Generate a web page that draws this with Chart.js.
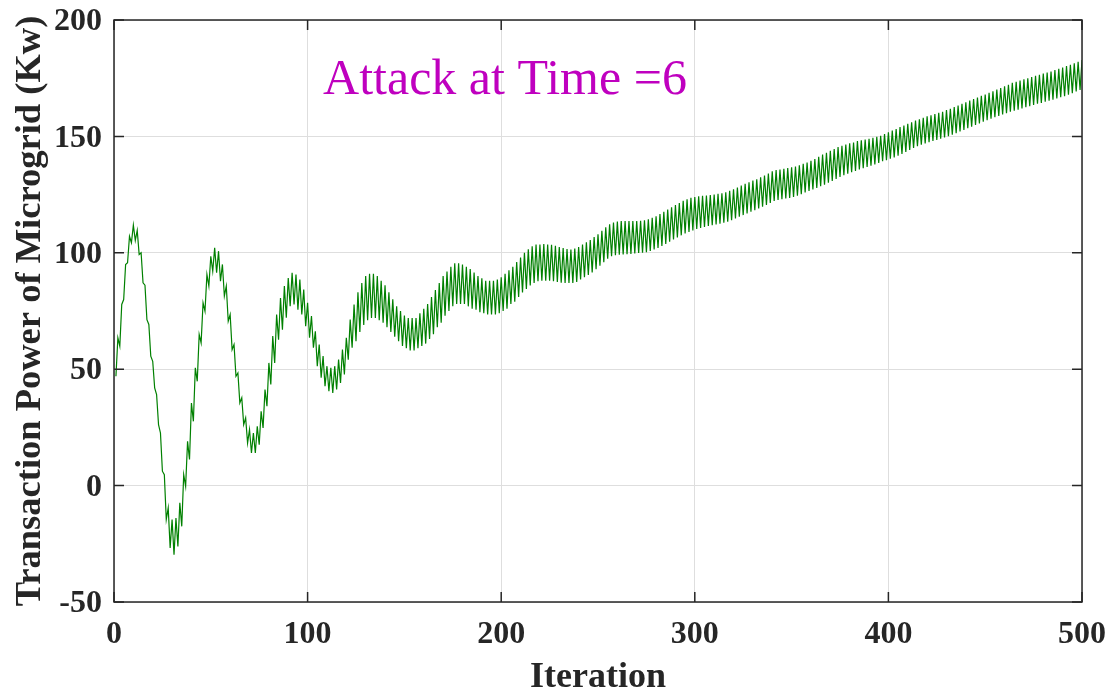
<!DOCTYPE html>
<html>
<head>
<meta charset="utf-8">
<title>Transaction Power of Microgrid</title>
<script src="https://cdn.jsdelivr.net/npm/chart.js@4.4.1/dist/chart.umd.min.js"></script>
<style>
  html, body { margin: 0; padding: 0; background: #fff; }
  canvas { display: block; }
</style>
</head>
<body>
<canvas id="myChart" width="1112" height="696"></canvas>
<script>
const xTicks = [0, 100, 200, 300, 400, 500];
const yTicks = [-50, 0, 50, 100, 150, 200];
const xTitle = "Iteration";
const yTitle = "Transaction Power of Microgrid (Kw)";
const attackLabel = "Attack at Time =6";

// power per iteration, iteration 1 .. 124
const powerA = [
  47.0, 63.5, 59.9, 77.8, 79.9, 95.0, 95.7, 107.1, 104.3, 111.9,
  105.3, 109.6, 99.3, 100.0, 87.1, 86.1, 71.3, 69.2, 55.6, 53.4,
  42.0, 39.1, 26.2, 22.6, 6.2, 4.7, -14.6, -9.6, -26.8, -14.6,
  -29.7, -13.9, -26.1, -7.4, -17.5, 4.7, -0.3, 19.0, 11.2, 35.5,
  27.6, 50.6, 44.8, 64.9, 61.3, 78.5, 74.9, 90.7, 85.7, 98.5,
  92.1, 102.1, 91.4, 100.7, 87.8, 95.0, 81.4, 85.7, 70.6, 73.5,
  58.4, 60.6, 47.0, 48.4, 35.5, 37.7, 26.2, 29.1, 18.3, 24.1,
  14.0, 22.6, 14.0, 25.5, 17.6, 31.9, 24.8, 41.3, 34.1, 52.7,
  43.4, 64.2, 52.7, 73.5, 62.7, 80.6, 67.0, 85.7, 72.1, 89.2,
  77.1, 91.4, 77.8, 90.7, 75.6, 88.5, 73.5, 84.2, 68.5, 78.5,
  63.5, 72.8, 59.2, 66.3, 51.3, 60.6, 46.3, 55.6, 42.7, 51.3,
  40.5, 50.6, 39.8, 51.3, 41.3, 54.1, 44.1, 58.4, 47.7, 63.5,
  54.1, 71.3, 59.2, 77.8
];

// iteration 125 .. 250
const powerB = [
  62, 83, 66, 87, 69, 90, 71, 91, 72, 91,
  72, 90, 71, 88, 70, 86, 68, 83, 66, 80,
  64, 77, 62, 75, 60, 73, 59, 72, 58, 72,
  58, 72, 59, 74, 60, 76, 61, 78, 63, 81,
  65, 84, 68, 87, 70, 90, 73, 92, 75, 94,
  77, 95.5, 78, 95.5, 78, 95, 78, 94, 77, 93,
  76, 91.5, 75.5, 90, 74.5, 89, 74, 88, 73.5, 88,
  73.5, 88, 73.5, 88.5, 74, 89.5, 75, 91, 76, 92.5,
  78, 94, 79, 96, 81, 98, 83, 100, 84.5, 101.5,
  86, 102.8, 87, 103.5, 87.8, 103.6, 88, 103.8, 88, 103.6,
  88, 103.4, 87.8, 103, 87.5, 102.5, 87.2, 102, 87, 101.6,
  87, 101.4, 87, 101.8, 87.5, 102.5, 88.5, 103.5, 89.5, 104.5,
  90.5, 105.5, 91.5, 106.8, 93, 108
];

// iteration 251 .. 375
const powerC = [
  94.5, 109.5, 96, 111, 97.5, 112.2, 98.5, 113, 99, 113.4,
  99.2, 113.6, 99.3, 113.6, 99.4, 113.6, 99.5, 113.6, 99.7, 113.6,
  99.9, 113.7, 100, 114, 100.3, 114.4, 100.8, 115, 101.4, 115.7,
  102.1, 116.6, 102.9, 117.6, 103.8, 118.6, 104.8, 119.5, 105.7, 120.5,
  106.6, 121.4, 107.5, 122.3, 108.3, 123, 109, 123.6, 109.6, 124,
  110.2, 124.3, 110.7, 124.5, 111.1, 124.6, 111.5, 124.8, 111.9, 125,
  112.2, 125.3, 112.5, 125.6, 112.9, 126, 113.4, 126.6, 114, 127.3,
  114.7, 128, 115.5, 128.9, 116.2, 129.6, 116.9, 130.3, 117.6, 131,
  118.3, 131.6, 119, 132.4, 119.8, 133.2, 120.6, 134, 121.4, 135,
  122.3, 135.5, 122.7, 135.8, 123, 136.1, 123.3, 136.4, 123.6, 136.7,
  124, 137.1, 124.5, 137.6, 125.2, 138.2, 125.9, 138.8, 126.6, 139.5,
  127.2, 140.3, 127.9, 141.2, 128.6, 142.2, 129.3, 143, 130.1, 143.8,
  130.9, 144.6, 131.7, 145.4, 132.6
];

// iteration 376 .. 500
const powerD = [
  146, 133.3, 146.5, 134, 147, 134.6, 147.4, 135.2, 148, 135.8,
  148.3, 136.3, 148.7, 136.9, 149, 137.4, 149.4, 138, 149.8, 138.6,
  150.3, 139.3, 151, 139.8, 151.8, 140.4, 152.5, 141, 153.2, 141.7,
  154, 142.5, 154.7, 143.3, 155.4, 144.2, 156.1, 145, 156.8, 145.8,
  157.4, 146.4, 158, 147, 158.6, 147.5, 159.1, 148, 159.6, 148.5,
  160.1, 149, 160.6, 149.5, 161.3, 150.1, 161.9, 150.7, 162.6, 151.4,
  163.3, 152.1, 164, 152.8, 164.7, 153.5, 165.4, 154.2, 166, 154.9,
  166.7, 155.6, 167.4, 156.3, 168, 157, 168.7, 157.6, 169.4, 158.2,
  170.1, 158.8, 170.8, 159.4, 171.5, 160, 172.2, 160.6, 173, 161,
  173.5, 161.5, 174, 162, 174.5, 162.5, 175, 163, 175.5, 163.5,
  176, 164, 176.5, 164.4, 177, 164.9, 177.4, 165.3, 177.9, 165.8,
  178.5, 166.3, 179, 166.8, 179.6, 167.3, 180.2, 167.9, 180.8, 168.6,
  181.4, 169.3, 182, 170, 182.8
];

const power = [...powerA, ...powerB, ...powerC, ...powerD];
const points = power.map((v, i) => ({ x: i + 1, y: v }));

const axisColor = "#262626";
const serif = '"Liberation Serif", "Times New Roman", serif';

// box round the plot, inward ticks and the attack note
const axesBox = {
  id: "axesBox",
  afterDatasetsDraw(chart) {
    const { ctx, chartArea: a, scales } = chart;
    ctx.save();
    ctx.strokeStyle = axisColor;
    ctx.lineWidth = 1.5;
    ctx.strokeRect(a.left, a.top, a.right - a.left, a.bottom - a.top);

    ctx.beginPath();
    xTicks.forEach((t) => {
      const px = scales.x.getPixelForValue(t);
      ctx.moveTo(px, a.bottom);
      ctx.lineTo(px, a.bottom - 10);
      ctx.moveTo(px, a.top);
      ctx.lineTo(px, a.top + 10);
    });
    yTicks.forEach((t) => {
      const py = scales.y.getPixelForValue(t);
      ctx.moveTo(a.left, py);
      ctx.lineTo(a.left + 10, py);
      ctx.moveTo(a.right, py);
      ctx.lineTo(a.right - 10, py);
    });
    ctx.stroke();

    ctx.fillStyle = "#BF00BF";
    ctx.font = "50px " + serif;
    ctx.textBaseline = "alphabetic";
    ctx.textAlign = "left";
    ctx.fillText(attackLabel, scales.x.getPixelForValue(108), scales.y.getPixelForValue(168.2));
    ctx.restore();
  },
};

const config = {
  type: "line",
  data: {
    datasets: [
      {
        data: points,
        borderColor: "#008000",
        borderWidth: 1.2,
        pointRadius: 0,
        tension: 0,
        fill: false,
      },
    ],
  },
  options: {
    responsive: false,
    animation: false,
    devicePixelRatio: 1,
    layout: { padding: { top: 20, right: 30, left: 0, bottom: 0 } },
    plugins: {
      legend: { display: false },
      tooltip: { enabled: false },
    },
    scales: {
      x: {
        type: "linear",
        min: 0,
        max: 500,
        afterFit: (scale) => {
          scale.height = 94;
          scale.paddingLeft = 0;
          scale.paddingRight = 0;
        },
        afterBuildTicks: (scale) => { scale.ticks = xTicks.map((v) => ({ value: v })); },
        grid: { color: "#dedede", lineWidth: 1, drawTicks: false },
        border: { display: false },
        ticks: {
          padding: 14,
          color: axisColor,
          font: { family: serif, size: 32, weight: "bold" },
          maxRotation: 0,
        },
        title: {
          display: true,
          text: xTitle,
          color: axisColor,
          padding: { top: 0, bottom: -3 },
          font: { family: serif, size: 36, weight: "bold" },
        },
      },
      y: {
        min: -50,
        max: 200,
        afterFit: (scale) => {
          scale.width = 114;
          scale.paddingTop = 0;
          scale.paddingBottom = 0;
        },
        afterBuildTicks: (scale) => { scale.ticks = yTicks.map((v) => ({ value: v })); },
        grid: { color: "#dedede", lineWidth: 1, drawTicks: false },
        border: { display: false },
        ticks: {
          padding: 12,
          labelOffset: 2,
          color: axisColor,
          font: { family: serif, size: 32, weight: "bold" },
        },
        title: {
          display: true,
          text: yTitle,
          color: axisColor,
          padding: { top: 9, bottom: 0 },
          font: { family: serif, size: 36.5, weight: "bold" },
        },
      },
    },
  },
  plugins: [axesBox],
};

const myChart = document.getElementById("myChart");
new Chart(myChart, config);
</script>
</body>
</html>
